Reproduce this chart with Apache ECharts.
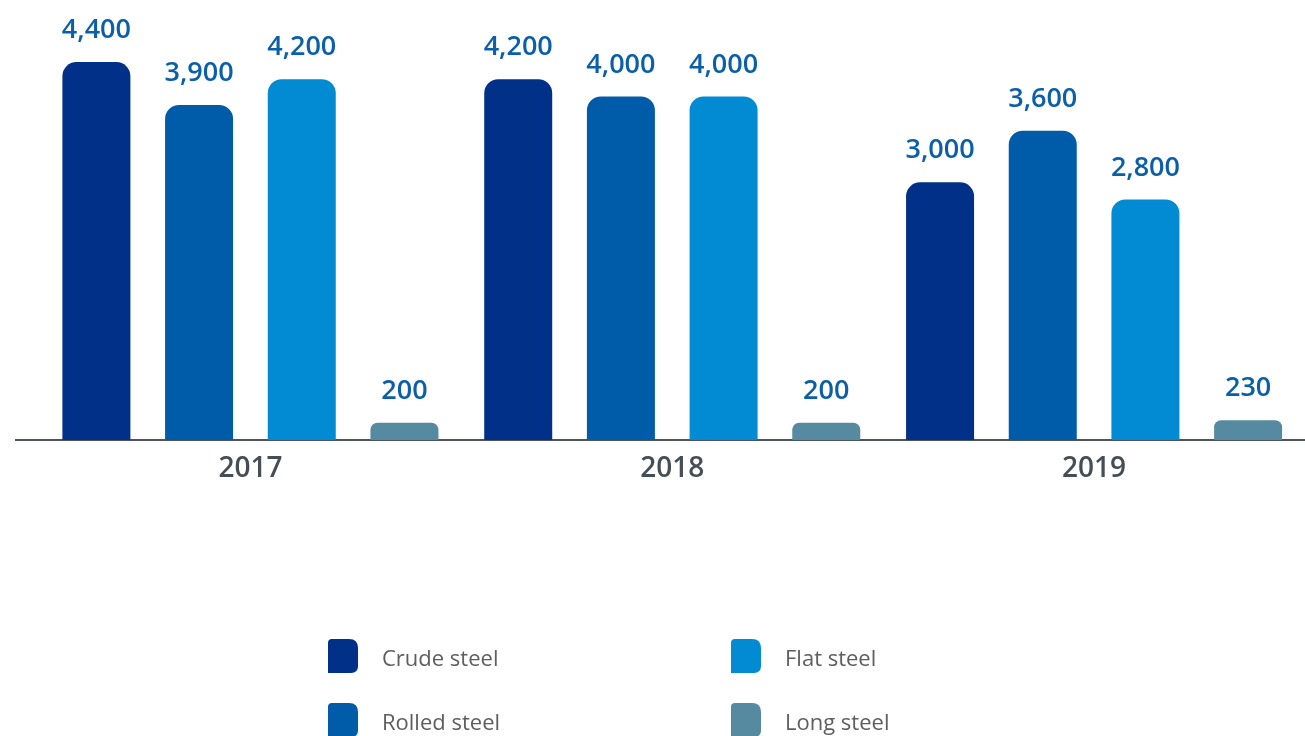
<!DOCTYPE html>
<html>
<head>
<meta charset="utf-8">
<style>
  html, body { margin: 0; padding: 0; background: #ffffff; }
  #chart { width: 1305px; height: 736px; }
</style>
<script src="https://cdn.jsdelivr.net/npm/echarts@6/dist/echarts.min.js"></script>
</head>
<body>
<div id="chart"></div>
<script>
// Steel production by product, thousand tonnes
const years = ['2017', '2018', '2019'];
const crudeSteel = [4400, 4200, 3000];
const rolledSteel = [3900, 4000, 3600];
const flatSteel = [4200, 4000, 2800];
const longSteel = [200, 200, 230];

const seriesNames = ['Crude steel', 'Rolled steel', 'Flat steel', 'Long steel'];
const seriesColors = ['#003087', '#005ca8', '#028bd3', '#568aa0'];
const seriesValues = [crudeSteel, rolledSteel, flatSteel, longSteel];

const legendIcon = 'path://M4,0 L21,0 Q30,0 30,9 L30,27 Q30,34 23,34 L0,34 L0,4 Q0,0 4,0 Z';
const fmt = v => v.toLocaleString('en-US');

const chart = echarts.init(document.getElementById('chart'), null, { renderer: 'canvas' });

const series = seriesNames.map((name, i) => ({
  name,
  type: 'bar',
  barWidth: 68,
  barGap: '51%',
  itemStyle: { color: seriesColors[i] },
  data: seriesValues[i].map(v => ({
    value: v,
    itemStyle: { borderRadius: v < 1000 ? [7, 7, 0, 0] : [14, 14, 0, 0] }
  })),
  label: {
    show: true,
    position: 'top',
    distance: 18,
    color: '#0b5fa8',
    fontFamily: 'Open Sans',
    fontWeight: 600,
    fontSize: 27,
    formatter: p => fmt(p.value)
  }
}));

const legendBase = {
  orient: 'vertical',
  top: 639,
  height: 160,
  padding: 0,
  itemWidth: 30,
  itemHeight: 34,
  itemGap: 30,
  icon: legendIcon,
  selectedMode: false,
  formatter: '{t|{name}}',
  textStyle: {
    fontFamily: 'Open Sans',
    fontSize: 22,
    color: '#5e5e5e',
    padding: [0, 0, 0, 19],
    rich: {
      t: {
        fontFamily: 'Open Sans',
        fontSize: 22,
        color: '#5e5e5e',
        padding: [7, 0, 0, 0]
      }
    }
  }
};

chart.setOption({
  animation: false,
  grid: { left: 39.5, right: -0.5, top: 10.5, bottom: 296, containLabel: false },
  xAxis: {
    type: 'category',
    data: years,
    axisLine: { show: true, lineStyle: { color: '#4b5560', width: 2 } },
    axisTick: { show: false },
    axisLabel: {
      margin: 15,
      color: '#454d56',
      fontFamily: 'Open Sans',
      fontWeight: 600,
      fontSize: 28
    }
  },
  yAxis: {
    type: 'value',
    min: 0,
    max: 5000,
    show: false,
    splitLine: { show: false }
  },
  legend: [
    Object.assign({}, legendBase, { left: 328, data: ['Crude steel', 'Rolled steel'] }),
    Object.assign({}, legendBase, { left: 731, data: ['Flat steel', 'Long steel'] })
  ],
  graphic: [{
    type: 'line',
    shape: { x1: 15, y1: 440, x2: 40, y2: 440 },
    style: { stroke: '#4b5560', lineWidth: 2 }
  }],
  series
});
</script>
</body>
</html>
